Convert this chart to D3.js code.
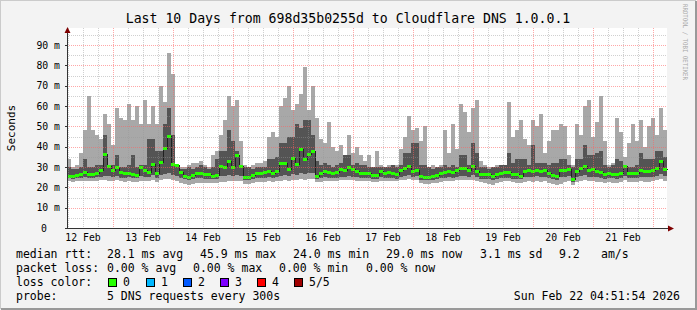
<!DOCTYPE html>
<html>
<head>
<meta charset="utf-8">
<script src="https://cdn.jsdelivr.net/npm/d3@7"></script>
<style>
  body { margin: 0; background: #f3f3f3; }
  text { font-family: "DejaVu Sans Mono", monospace; fill: #000; }
</style>
</head>
<body>
<div id="chart"></div>
<script>
// smoke / median values in ms, one column per 96 minutes, 12 Feb -> 22 Feb
const hi = [34,30,31,37,48,65,48,46,44,56, 51,41,59,54,53,61,53,60,51,63,
  51,60,51,70,62,86,76,31,30,30, 31,32,32,33,31,30,36,38,46,53,
  65,60,63,43,31,30,31,32,32,33, 45,47,45,60,64,70,58,61,66,79,
  58,70,54,44,42,52,40,38,41,36, 46,37,40,36,33,36,30,38,31,30,
  31,30,31,39,45,55,48,49,43,50, 30,31,30,31,48,37,51,39,61,57,
  47,59,63,33,31,30,30,31,31,31, 62,45,48,53,44,41,53,50,56,37,
  43,48,48,51,50,36,31,51,46,60, 63,45,52,65,43,31,32,54,47,35,
  42,51,43,53,40,50,54,46,59,48];
const q3 = [30,29,29,30,34,30,30,31,31,46, 30,31,36,30,30,31,36,30,31,31,
  44,44,38,38,51,59,46,30,29,29, 30,29,30,31,30,29,30,34,38,38,
  48,43,38,30,30,30,29,30,30,30, 34,34,35,42,42,45,45,51,49,53,
  53,46,33,31,32,31,30,31,32,36, 36,31,32,31,31,30,30,30,30,30,
  30,31,30,31,37,37,42,42,31,31, 30,29,30,30,31,30,31,30,36,36,
  31,42,37,30,30,29,30,30,31,31, 37,32,34,34,34,31,41,32,32,32,
  31,32,32,34,34,31,30,34,34,41, 36,36,37,38,31,30,31,34,33,30,
  30,30,31,37,34,34,34,38,38,35];
const med = [25.7,25.5,26,26.5,27.5,26.7,26.7,27.3,28.3,36.5, 30.3,28.3,30,27.5,27.3,27.3,26.5,26.3,30,28.3,
  27.5,31.6,27,32.7,39.3,45.5,31.5,31,27.5,25.8, 25.3,26,27,27,26.5,26.5,25.7,26,30.3,29.8,
  32.8,30,36,30.6,25,25.3,26,27,27.3,27.5, 28,27,27.8,32,32,29,34.4,31.5,38.8,34,
  36.4,38,25.4,27,28,27.5,27,27.5,29,28.7, 30,29,28,27,27,27,26.3,26,27.9,27.3,
  27.4,27,26.5,28.5,29.7,30.3,27.9,28.7,25.4,25.2, 25,25.5,26.2,27,27.5,27.9,27.5,28.5,29.7,29.7,
  28.5,30.3,28,26.5,26.5,26.5,25.5,26.5,27,27.4, 27.4,26.5,26.5,25.8,28,28.5,27.9,28.7,28,28.5,
  27,26,25.8,28.7,28.7,29,24,27.9,29.5,30.3, 28.5,28.8,28,27.5,26.5,27.3,26.8,26.5,27.3,30.3,
  27.3,27,27,28.5,28,28,28.6,29.5,33,29];
const q1 = [24.5,24.3,24.5,24.8,25,24.5,24.8,25,25.3,25.8, 25.5,25,25.5,24.8,24.8,25,24.5,24.5,25.5,25,
  25,26,24.8,26,26.5,27,26,25.5,24.5,24, 23.8,24,24.5,24.5,24.3,24.3,24,24.3,25.5,25.5,
  26,25.5,26,25.5,23.8,23.8,24,24.5,24.5,24.8, 25,24.8,25,25.5,26,25.5,26.5,26,27,26.5,
  27,27,24,24.5,25,24.8,24.5,24.8,25.3,25.3, 25.5,25.3,25,24.5,24.5,24.5,24,24,25,24.8,
  24.8,24.5,24.3,25.3,25.8,26,25.3,25.5,23.8,23.5, 23.5,23.8,24,24.5,24.8,25,24.8,25.3,25.8,25.8,
  25.3,26,25.3,24.3,24.3,24,23.8,24,24.5,24.8, 24.8,24.3,24.3,24,25,25.3,25,25.5,25,25.3,
  24.5,24,23.8,25.3,25.3,25.5,22.8,25,25.8,26, 25.3,25.3,25,24.8,24.3,24.8,24.5,24.3,24.8,25.8,
  24.8,24.5,24.5,25.3,25,25,25.3,25.8,26.5,25.5];
const lo = [23,22.8,23,23.2,23.2,23,23,23.2,23.5,23.5, 23.3,23,23.5,23,22.8,23,22.8,22.5,23.3,23,
  23,23.5,22.8,23.5,24,24,23.5,23,22,21.5, 21.2,21.5,22,22,22,22.2,22,22,22.5,22.8,
  23,23,23,23,21.8,21.5,22,22.5,22.5,22.8, 23,22.8,23,23.3,23.5,23.3,23.5,23.5,24,23.8,
  24,24,22.5,22.8,23.2,23,23,23,23.5,23.5, 23.5,23.5,23.2,23,23,23,22.8,22.5,23.3,23.2,
  23.2,23,23,23.5,23.8,24,23.5,23.5,22,21.8, 21.8,22,22.2,22.5,23,23.2,23,23.5,23.8,23.8,
  23.5,23.8,23.3,22.5,22,21.5,21.3,22,22.5,23, 23,22.5,22.3,22,22.8,23,22.8,23.2,22.8,23,
  22.3,21.5,21.2,21.8,22.5,23,21,22.5,23.3,23.5, 23,23,22.8,22.5,22,22.5,22.3,22,22.5,23.5,
  22.8,22.5,22.5,23,22.8,22.8,23,23.5,24,23];

const yTicks = [0,10,20,30,40,50,60,70,80,90];
const lossLabels = ["0","1","2","3","4","5/5"];
const lossColors = ["#26ff00","#00b8ff","#0059ff","#7e00ff","#ff0000","#a00000"];
const legendRows = [
  ["median rtt:", ["28.1 ms avg","45.9 ms max","24.0 ms min","29.0 ms now","3.1 ms sd","9.2","am/s"]],
  ["packet loss:", ["0.00 % avg","0.00 % max","0.00 % min","0.00 % now"]],
  ["loss color:", []],
  ["probe:", ["5 DNS requests every 300s"]]
];
const rowX = [[107,200,293,386,480,559,601],[107,193,279,366]];

const width = 697, height = 310;
const svg = d3.select("#chart").append("svg")
  .attr("width", width).attr("height", height);

// frame
svg.append("rect").attr("width", width).attr("height", height).attr("fill", "#f3f3f3");
svg.append("path").attr("d", "M0,309V0H696").attr("fill","none").attr("stroke","#cbcbcb").attr("stroke-width",2);
svg.append("path").attr("d", "M1,309H696V1").attr("fill","none").attr("stroke","#999").attr("stroke-width",2);

const t0 = Date.UTC(2026, 1, 12, 5, 36), t1 = t0 + 10 * 864e5;
const step = 5760e3;
const x = d3.scaleUtc().domain([t0, t1]).range([67, 667]);
const y = d3.scaleLinear().domain([0, 98.4]).range([228, 28]);
const cols = hi.map((d, i) => ({ t: t0 + i * step, hi: d, q3: q3[i], med: med[i], q1: q1[i], lo: lo[i] }));
const X = t => Math.round(x(t)), Y = v => Math.round(y(v));

svg.append("rect").attr("x", 67).attr("y", 28).attr("width", 600).attr("height", 200).attr("fill", "#fff");

const plot = svg.append("g").attr("shape-rendering", "crispEdges");
plot.selectAll("rect.l").data(cols).join("rect").attr("class","l")
  .attr("x", d => X(d.t)).attr("width", d => X(d.t + step) - X(d.t))
  .attr("y", d => Y(d.hi)).attr("height", d => Y(d.lo) - Y(d.hi))
  .attr("fill", "#a8a8a8");
plot.selectAll("rect.d").data(cols).join("rect").attr("class","d")
  .attr("x", d => X(d.t)).attr("width", d => X(d.t + step) - X(d.t))
  .attr("y", d => Y(d.q3)).attr("height", d => Y(d.q1) - Y(d.q3))
  .attr("fill", "#545454");

const stepLine = d3.line().curve(d3.curveStepAfter).x(d => X(d.t) + 0.5).y(d => Y(d.med) + 0.5);
plot.append("path").datum(cols.concat([{ t: t1, med: med[med.length - 1] }]))
  .attr("d", stepLine).attr("fill", "none").attr("stroke", "#202020").attr("stroke-width", 1);
plot.selectAll("rect.m").data(cols).join("rect").attr("class","m")
  .attr("x", d => X(d.t)).attr("width", d => X(d.t + step) - X(d.t))
  .attr("y", d => Y(d.med) - 1).attr("height", 3)
  .attr("fill", lossColors[0]);

// grid on top
const grid = svg.append("g").attr("shape-rendering", "crispEdges").attr("stroke-dasharray", "1,1");
const hours = d3.utcHour.every(6).range(t0, t1);
grid.selectAll("line.v").data(hours).join("line")
  .attr("x1", d => X(d) + 0.5).attr("x2", d => X(d) + 0.5).attr("y1", 28).attr("y2", 228)
  .attr("stroke", d => d.getUTCHours() === 0 ? "rgba(255,95,95,0.55)" : "rgba(150,150,150,0.45)");
grid.selectAll("line.h").data(d3.range(5, 98, 5)).join("line")
  .attr("y1", d => Y(d) + 0.5).attr("y2", d => Y(d) + 0.5).attr("x1", 67).attr("x2", 667)
  .attr("stroke", d => d % 10 === 0 ? "rgba(255,95,95,0.55)" : "rgba(150,150,150,0.45)");

// axes
svg.append("path").attr("d", "M67.5,228.5V31 M67,228.5H670").attr("stroke", "#333").attr("fill", "none");
svg.append("path").attr("d", "M64.5,33L67.5,27L70.5,33Z M668,225.5L674,228.5L668,231.5Z").attr("fill", "#7f0000");
svg.append("g").attr("shape-rendering", "crispEdges").selectAll("line").data(yTicks).join("line")
  .attr("x1", 65).attr("x2", 67).attr("y1", d => Y(d) + 0.5).attr("y2", d => Y(d) + 0.5).attr("stroke", "#333");

svg.append("g").selectAll("text").data(yTicks).join("text")
  .attr("x", d => d === 0 ? 47 : 60).attr("y", d => y(d)).attr("dy", "0.36em")
  .attr("text-anchor", "end").attr("font-size", "9.8px")
  .text(d => d === 0 ? "0" : d + " m");

const days = d3.utcDay.range(d3.utcDay.floor(t0), t1).map(d => +d + 12 * 36e5).filter(d => d > t0 && d < t1);
svg.append("g").selectAll("text").data(days).join("text")
  .attr("x", d => x(d)).attr("y", 241).attr("text-anchor", "middle").attr("font-size", "9.8px")
  .text(d => d3.utcFormat("%d %b")(new Date(d)));

svg.append("text").attr("x", 348).attr("y", 23).attr("text-anchor", "middle").attr("font-size", "13.2px")
  .text("Last 10 Days from 698d35b0255d to Cloudflare DNS 1.0.0.1");
svg.append("text").attr("transform", "translate(15,128) rotate(-90)").attr("text-anchor", "middle")
  .attr("font-size", "11px").text("Seconds");
svg.append("text").attr("transform", "translate(683,4) rotate(90)").attr("font-size", "6.5px")
  .attr("textLength", 76).attr("lengthAdjust", "spacingAndGlyphs")
  .style("fill", "#a8a8a8").text("RRDTOOL / TOBI OETIKER");

// legend
const lg = svg.append("g").attr("font-size", "11.5px");
legendRows.forEach(([label, parts], r) => {
  const by = 258 + r * 14;
  lg.append("text").attr("x", 16).attr("y", by).text(label);
  parts.forEach((p, j) => lg.append("text").attr("x", r < 2 ? rowX[r][j] : 107).attr("y", by).text(p));
});
const boxX = [108, 146, 183, 220, 257, 294];
lossLabels.forEach((l, i) => {
  lg.append("rect").attr("x", boxX[i] + 0.5).attr("y", 278.5).attr("width", 8).attr("height", 8)
    .attr("fill", lossColors[i]).attr("stroke", "#000");
  lg.append("text").attr("x", boxX[i] + 15).attr("y", 286).text(l);
});
lg.append("text").attr("x", 680).attr("y", 300).attr("text-anchor", "end").text("Sun Feb 22 04:51:54 2026");
</script>
</body>
</html>
